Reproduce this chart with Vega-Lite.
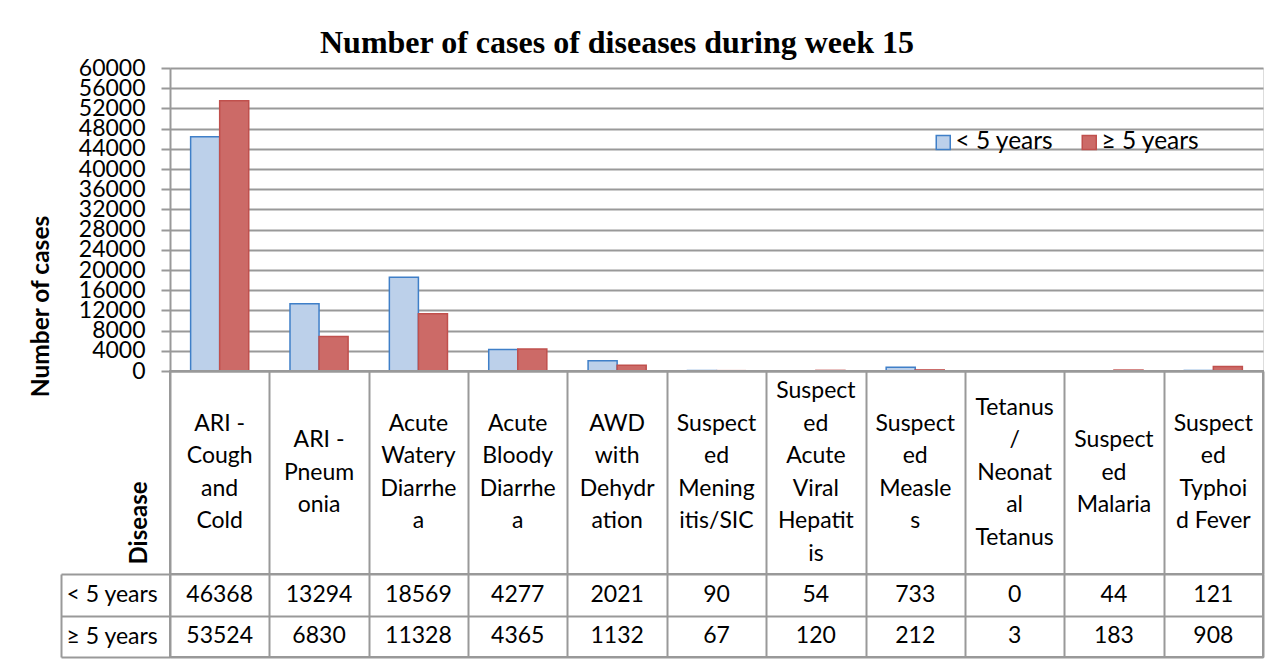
{
  "$schema": "https://vega.github.io/schema/vega-lite/v6.json",
  "background": "white",
  "padding": {"left": 27, "top": 26, "right": 5, "bottom": 0},
  "title": {"text": "Number of cases of diseases during week 15", "font": "Liberation Serif", "fontSize": 32, "fontWeight": "bold", "color": "black", "anchor": "start", "frame": "group", "dx": 150, "offset": -3},
  "config": {
    "font": "Lato",
    "axis": {"labelFont": "Lato", "titleFont": "Lato"},
    "legend": {"labelFont": "Lato"},
    "text": {"font": "Lato"}
  },
  "datasets": {
    "cases": [
      {"disease": "ARI - Cough and Cold", "group": "< 5 years", "cases": 46368},
      {"disease": "ARI - Cough and Cold", "group": "≥ 5 years", "cases": 53524},
      {"disease": "ARI - Pneumonia", "group": "< 5 years", "cases": 13294},
      {"disease": "ARI - Pneumonia", "group": "≥ 5 years", "cases": 6830},
      {"disease": "Acute Watery Diarrhea", "group": "< 5 years", "cases": 18569},
      {"disease": "Acute Watery Diarrhea", "group": "≥ 5 years", "cases": 11328},
      {"disease": "Acute Bloody Diarrhea", "group": "< 5 years", "cases": 4277},
      {"disease": "Acute Bloody Diarrhea", "group": "≥ 5 years", "cases": 4365},
      {"disease": "AWD with Dehydration", "group": "< 5 years", "cases": 2021},
      {"disease": "AWD with Dehydration", "group": "≥ 5 years", "cases": 1132},
      {"disease": "Suspected Meningitis/SIC", "group": "< 5 years", "cases": 90},
      {"disease": "Suspected Meningitis/SIC", "group": "≥ 5 years", "cases": 67},
      {"disease": "Suspected Acute Viral Hepatitis", "group": "< 5 years", "cases": 54},
      {"disease": "Suspected Acute Viral Hepatitis", "group": "≥ 5 years", "cases": 120},
      {"disease": "Suspected Measles", "group": "< 5 years", "cases": 733},
      {"disease": "Suspected Measles", "group": "≥ 5 years", "cases": 212},
      {"disease": "Tetanus / Neonatal Tetanus", "group": "< 5 years", "cases": 0},
      {"disease": "Tetanus / Neonatal Tetanus", "group": "≥ 5 years", "cases": 3},
      {"disease": "Suspected Malaria", "group": "< 5 years", "cases": 44},
      {"disease": "Suspected Malaria", "group": "≥ 5 years", "cases": 183},
      {"disease": "Suspected Typhoid Fever", "group": "< 5 years", "cases": 121},
      {"disease": "Suspected Typhoid Fever", "group": "≥ 5 years", "cases": 908}
    ],
    "diseases": [
      {"disease": "ARI - Cough and Cold", "label": "ARI -\nCough\nand\nCold"},
      {"disease": "ARI - Pneumonia", "label": "ARI -\nPneum\nonia"},
      {"disease": "Acute Watery Diarrhea", "label": "Acute\nWatery\nDiarrhe\na"},
      {"disease": "Acute Bloody Diarrhea", "label": "Acute\nBloody\nDiarrhe\na"},
      {"disease": "AWD with Dehydration", "label": "AWD\nwith\nDehydr\nation"},
      {"disease": "Suspected Meningitis/SIC", "label": "Suspect\ned\nMening\nitis/SIC"},
      {"disease": "Suspected Acute Viral Hepatitis", "label": "Suspect\ned\nAcute\nViral\nHepatit\nis"},
      {"disease": "Suspected Measles", "label": "Suspect\ned\nMeasle\ns"},
      {"disease": "Tetanus / Neonatal Tetanus", "label": "Tetanus\n/\nNeonat\nal\nTetanus"},
      {"disease": "Suspected Malaria", "label": "Suspect\ned\nMalaria"},
      {"disease": "Suspected Typhoid Fever", "label": "Suspect\ned\nTyphoi\nd Fever"}
    ]
  },
  "vconcat": [
    {
      "width": 1093,
      "height": 303,
      "data": {"name": "cases"},
      "mark": {"type": "bar", "strokeWidth": 1.5},
      "encoding": {
        "x": {"field": "disease", "type": "nominal", "sort": null,
          "scale": {"domain": ["ARI - Cough and Cold", "ARI - Pneumonia", "Acute Watery Diarrhea", "Acute Bloody Diarrhea", "AWD with Dehydration", "Suspected Meningitis/SIC", "Suspected Acute Viral Hepatitis", "Suspected Measles", "Tetanus / Neonatal Tetanus", "Suspected Malaria", "Suspected Typhoid Fever"], "paddingInner": 0, "paddingOuter": 0},
          "axis": {"labels": false, "ticks": false, "title": null, "domainColor": "#999999", "domainWidth": 2}},
        "xOffset": {"field": "group", "type": "nominal", "sort": ["< 5 years", "≥ 5 years"], "scale": {"paddingInner": 0, "paddingOuter": 0.71}},
        "y": {"field": "cases", "type": "quantitative", "scale": {"domain": [0, 60000]},
          "axis": {"values": [0, 4000, 8000, 12000, 16000, 20000, 24000, 28000, 32000, 36000, 40000, 44000, 48000, 52000, 56000, 60000],
            "format": "d", "labelOverlap": false, "labelFontSize": 23, "labelColor": "black", "labelPadding": 16,
            "tickSize": 9, "tickColor": "#999999", "tickWidth": 2,
            "domainColor": "#999999", "domainWidth": 2,
            "grid": true, "gridColor": "#999999", "gridWidth": 2,
            "title": "Number of cases", "titleFontSize": 24.5, "titleFontWeight": "bold", "titleColor": "black", "titleX": -117, "titleY": 238}},
        "fill": {"field": "group", "type": "nominal", "scale": {"domain": ["< 5 years", "≥ 5 years"], "range": ["#bcd0ea", "#cc6a67"]},
          "legend": {"orient": "none", "legendX": 761, "legendY": 62, "direction": "horizontal", "title": null, "labelFontSize": 24.5, "labelColor": "black", "symbolType": "square", "symbolSize": 196, "labelOffset": 0, "columnPadding": 23, "symbolStrokeWidth": 1.5}},
        "stroke": {"field": "group", "type": "nominal", "scale": {"domain": ["< 5 years", "≥ 5 years"], "range": ["#3f7fc8", "#c0504d"]},
          "legend": {"orient": "none", "legendX": 761, "legendY": 62, "direction": "horizontal", "title": null, "labelFontSize": 24.5, "labelColor": "black", "symbolType": "square", "symbolSize": 196, "labelOffset": 0, "columnPadding": 23, "symbolStrokeWidth": 1.5}}
      }
    },
    {
      "width": 1093,
      "height": 203,
      "view": {"stroke": "#999999", "strokeWidth": 2},
      "data": {"name": "diseases"},
      "mark": {"type": "text", "fontSize": 23, "lineHeight": 32.5, "lineBreak": "\n", "baseline": "middle", "align": "center", "color": "black",
        "dy": {"expr": "-(length(split(datum.label, '\\n')) - 1) * 16.25"}},
      "encoding": {
        "x": {"field": "disease", "type": "nominal", "sort": null,
          "scale": {"domain": ["ARI - Cough and Cold", "ARI - Pneumonia", "Acute Watery Diarrhea", "Acute Bloody Diarrhea", "AWD with Dehydration", "Suspected Meningitis/SIC", "Suspected Acute Viral Hepatitis", "Suspected Measles", "Tetanus / Neonatal Tetanus", "Suspected Malaria", "Suspected Typhoid Fever"], "paddingInner": 0, "paddingOuter": 0},
          "axis": {"labels": false, "ticks": false, "domain": false, "grid": true, "tickBand": "extent", "gridColor": "#999999", "gridWidth": 2,
            "title": "Disease", "titleFontSize": 24, "titleFontWeight": "bold", "titleColor": "black", "titleAngle": 270, "titleAlign": "left", "titleBaseline": "bottom", "titleX": -19, "titleY": -10}},
        "text": {"field": "label", "type": "nominal"}
      }
    },
    {
      "width": 1093,
      "height": 83,
      "view": {"stroke": "#999999", "strokeWidth": 2},
      "data": {"name": "cases"},
      "mark": {"type": "text", "fontSize": 23, "baseline": "middle", "align": "center", "color": "black"},
      "encoding": {
        "x": {"field": "disease", "type": "nominal", "sort": null,
          "scale": {"domain": ["ARI - Cough and Cold", "ARI - Pneumonia", "Acute Watery Diarrhea", "Acute Bloody Diarrhea", "AWD with Dehydration", "Suspected Meningitis/SIC", "Suspected Acute Viral Hepatitis", "Suspected Measles", "Tetanus / Neonatal Tetanus", "Suspected Malaria", "Suspected Typhoid Fever"], "paddingInner": 0, "paddingOuter": 0},
          "axis": {"labels": false, "ticks": false, "domain": false, "grid": true, "tickBand": "extent", "gridColor": "#999999", "gridWidth": 2, "title": null}},
        "y": {"field": "group", "type": "nominal", "sort": ["< 5 years", "≥ 5 years"], "scale": {"paddingInner": 0, "paddingOuter": 0},
          "axis": {"title": null, "grid": true, "tickBand": "extent", "gridColor": "#999999", "gridWidth": 2,
            "domain": true, "domainColor": "#999999", "domainWidth": 2, "offset": 109,
            "ticks": true, "tickSize": -109, "tickColor": "#999999", "tickWidth": 2,
            "labelAlign": "left", "labelPadding": 104, "labelFontSize": 23, "labelColor": "black", "labelBaseline": "middle"}},
        "text": {"field": "cases", "type": "quantitative", "format": "d"}
      }
    }
  ],
  "spacing": 0,
  "bounds": "flush"
}
